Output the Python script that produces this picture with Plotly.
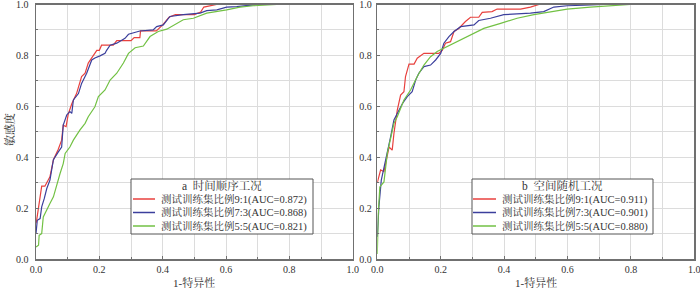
import plotly.graph_objects as go

# ---------------- data ----------------
ticks = [0.0, 0.2, 0.4, 0.6, 0.8, 1.0]
tick_labels = ["0.0", "0.2", "0.4", "0.6", "0.8", "1.0"]

x_title = "1-特异性"
y_title = "敏感度"

legend_title_a = "a  时间顺序工况"
legend_title_b = "b  空间随机工况"

names_a = ["测试训练集比例9:1(AUC=0.872)", "测试训练集比例7:3(AUC=0.868)", "测试训练集比例5:5(AUC=0.821)"]
names_b = ["测试训练集比例9:1(AUC=0.911)", "测试训练集比例7:3(AUC=0.901)", "测试训练集比例5:5(AUC=0.880)"]

# panel a  (时间顺序工况)
fpr_a_91 = [0, 0.002, 0.018, 0.028, 0.044, 0.055, 0.07, 0.081, 0.086, 0.095, 0.102, 0.113, 0.128,
            0.144, 0.155, 0.165, 0.176, 0.192, 0.2, 0.207, 0.244, 0.255, 0.281, 0.3, 0.31, 0.328,
            0.33, 0.38, 0.4, 0.42, 0.44, 0.5, 0.52, 0.53, 0.57, 1.0]
tpr_a_91 = [0.14, 0.152, 0.286, 0.286, 0.323, 0.39, 0.43, 0.467, 0.526, 0.52, 0.57, 0.61, 0.65,
            0.717, 0.73, 0.77, 0.79, 0.82, 0.82, 0.84, 0.84, 0.858, 0.858, 0.858, 0.87, 0.87,
            0.896, 0.896, 0.92, 0.95, 0.96, 0.96, 0.97, 0.99, 1.0, 1.0]

fpr_a_73 = [0, 0.004, 0.013, 0.018, 0.026, 0.034, 0.044, 0.055, 0.07, 0.081, 0.086, 0.097, 0.107,
            0.113, 0.118, 0.134, 0.144, 0.16, 0.176, 0.186, 0.202, 0.218, 0.223, 0.234, 0.255,
            0.281, 0.292, 0.328, 0.37, 0.381, 0.402, 0.423, 0.465, 0.518, 0.539, 0.571, 0.602,
            0.634, 0.697, 1.0]
tpr_a_73 = [0.1, 0.152, 0.159, 0.205, 0.237, 0.277, 0.31, 0.39, 0.42, 0.44, 0.526, 0.566, 0.579,
            0.572, 0.625, 0.65, 0.69, 0.73, 0.782, 0.79, 0.798, 0.808, 0.82, 0.84, 0.848,
            0.867, 0.883, 0.896, 0.9, 0.913, 0.92, 0.953, 0.96, 0.966, 0.976, 0.979, 0.99,
            0.992, 1.0, 1.0]

fpr_a_55 = [0, 0.008, 0.01, 0.018, 0.023, 0.034, 0.044, 0.055, 0.065, 0.076, 0.086, 0.092, 0.107,
            0.118, 0.139, 0.155, 0.165, 0.186, 0.197, 0.218, 0.234, 0.255, 0.276, 0.292, 0.313,
            0.339, 0.36, 0.386, 0.413, 0.439, 0.465, 0.497, 0.539, 0.602, 0.644, 0.686, 0.76, 1.0]
tpr_a_55 = [0.047, 0.054, 0.093, 0.1, 0.165, 0.19, 0.218, 0.244, 0.29, 0.336, 0.375, 0.415, 0.44,
            0.467, 0.507, 0.533, 0.559, 0.598, 0.638, 0.664, 0.703, 0.73, 0.77, 0.808, 0.83,
            0.837, 0.874, 0.894, 0.903, 0.92, 0.94, 0.946, 0.966, 0.979, 0.99, 0.995, 1.0, 1.0]

# panel b  (空间随机工况)
fpr_b_91 = [0, 0.0105, 0.021, 0.0315, 0.037, 0.047, 0.0525, 0.063, 0.0735, 0.084, 0.089, 0.1,
            0.116, 0.126, 0.147, 0.194, 0.205, 0.215, 0.231, 0.242, 0.257, 0.278, 0.294, 0.32,
            0.331, 0.362, 0.378, 0.452, 0.483, 0.51, 1.0]
tpr_b_91 = [0.3, 0.35, 0.343, 0.4, 0.44, 0.428, 0.493, 0.585, 0.644, 0.657, 0.717, 0.766,
            0.766, 0.789, 0.808, 0.808, 0.82, 0.848, 0.854, 0.894, 0.906, 0.933, 0.95, 0.95,
            0.969, 0.972, 0.982, 0.982, 0.99, 1.0, 1.0]

fpr_b_73 = [0, 0.005, 0.0126, 0.021, 0.0315, 0.037, 0.042, 0.0525, 0.063, 0.079, 0.0945, 0.11,
            0.121, 0.131, 0.147, 0.168, 0.184, 0.2, 0.21, 0.226, 0.242, 0.263, 0.305, 0.32,
            0.357, 0.399, 0.483, 0.525, 0.557, 0.599, 0.651, 0.714, 1.0]
tpr_b_73 = [0.087, 0.205, 0.31, 0.356, 0.415, 0.448, 0.48, 0.546, 0.572, 0.61, 0.638, 0.657,
            0.703, 0.73, 0.756, 0.762, 0.782, 0.808, 0.848, 0.874, 0.894, 0.913, 0.92, 0.937,
            0.946, 0.96, 0.966, 0.972, 0.99, 0.995, 0.997, 1.0, 1.0]

fpr_b_55 = [0, 0.003, 0.008, 0.021, 0.0315, 0.042, 0.0525, 0.063, 0.084, 0.105, 0.126, 0.147,
            0.168, 0.189, 0.221, 0.252, 0.294, 0.336, 0.389, 0.441, 0.494, 0.546, 0.599, 0.672,
            0.746, 0.798, 1.0]
tpr_b_55 = [0.02, 0.178, 0.283, 0.303, 0.415, 0.48, 0.533, 0.559, 0.625, 0.664, 0.717, 0.762,
            0.795, 0.815, 0.835, 0.854, 0.88, 0.906, 0.926, 0.946, 0.96, 0.972, 0.982, 0.99,
            0.997, 1.0, 1.0]

colors = ["#e8413e", "#3b3f9c", "#72c144"]

# ---------------- figure ----------------
FONT = "Liberation Serif, 'Times New Roman', 'Noto Serif CJK SC', 'Noto Sans CJK SC', serif"
TXT = "#333333"

W, H = 700, 291


def px(x):
    return x / W


def py(y):
    return 1 - y / H


fig = go.Figure()

series_a = [(fpr_a_91, tpr_a_91), (fpr_a_73, tpr_a_73), (fpr_a_55, tpr_a_55)]
series_b = [(fpr_b_91, tpr_b_91), (fpr_b_73, tpr_b_73), (fpr_b_55, tpr_b_55)]

for (fx, ty), nm, c in zip(series_a, names_a, colors):
    fig.add_trace(go.Scatter(x=fx, y=ty, mode="lines", name=nm, showlegend=False,
                             line=dict(color=c, width=1.2), xaxis="x", yaxis="y"))
for (fx, ty), nm, c in zip(series_b, names_b, colors):
    fig.add_trace(go.Scatter(x=fx, y=ty, mode="lines", name=nm, showlegend=False,
                             line=dict(color=c, width=1.2), xaxis="x2", yaxis="y2"))

y_dom = [py(259), py(4.5)]
xa_dom = [px(36), px(352.7)]
xb_dom = [px(377.3), px(694.3)]

axis_common = dict(
    range=[0, 1], tickvals=ticks, ticktext=tick_labels,
    showline=True, mirror=True, linecolor="#707070", linewidth=1.5,
    showgrid=True, gridcolor="#dcdcdc", gridwidth=1,
    ticks="inside", ticklen=3, tickcolor="#707070", tickwidth=1,
    minor=dict(dtick=0.1, showgrid=True, gridcolor="#dcdcdc", gridwidth=1,
               ticks="inside", ticklen=2, tickcolor="#707070"),
    zeroline=False, fixedrange=True, automargin=False,
    ticklabeloverflow="allow",
    tickfont=dict(family=FONT, size=10, color=TXT),
)

fig.update_layout(
    width=W, height=H,
    margin=dict(l=0, r=0, t=0, b=0),
    paper_bgcolor="white", plot_bgcolor="white",
    font=dict(family=FONT, size=10, color=TXT),
    xaxis=dict(domain=xa_dom, anchor="y", **axis_common),
    yaxis=dict(domain=y_dom, anchor="x", ticklabelstandoff=4, **axis_common),
    xaxis2=dict(domain=xb_dom, anchor="y2", **axis_common),
    yaxis2=dict(domain=y_dom, anchor="x2", ticklabelstandoff=2, **axis_common),
    showlegend=False,
)

# axis titles
for dom in (xa_dom, xb_dom):
    fig.add_annotation(text=x_title, x=(dom[0] + dom[1]) / 2, y=py(282), xref="paper", yref="paper",
                       xanchor="center", yanchor="middle", showarrow=False,
                       font=dict(family=FONT, size=11, color=TXT))
fig.add_annotation(text=y_title, x=px(9), y=py(130), xref="paper", yref="paper",
                   xanchor="center", yanchor="middle", showarrow=False, textangle=-90,
                   font=dict(family=FONT, size=11, color=TXT))

# legend boxes (drawn in paper coordinates)
legend_specs = [
    dict(x0=131, x1=313, sw0=133, sw1=155, tx=159, title=legend_title_a, names=names_a),
    dict(x0=472, x1=653, sw0=473, sw1=496, tx=500, title=legend_title_b, names=names_b),
]
row_y = [199, 212.5, 226]
for spec in legend_specs:
    fig.add_shape(type="rect", xref="paper", yref="paper",
                  x0=px(spec["x0"]), x1=px(spec["x1"]), y0=py(234), y1=py(179),
                  fillcolor="white", line=dict(color="#555555", width=1), layer="above")
    fig.add_annotation(text=spec["title"], x=px((spec["x0"] + spec["x1"]) / 2), y=py(185.5),
                       xref="paper", yref="paper", xanchor="center", yanchor="middle",
                       showarrow=False, font=dict(family=FONT, size=11.5, color=TXT))
    for nm, c, ry in zip(spec["names"], colors, row_y):
        fig.add_shape(type="line", xref="paper", yref="paper",
                      x0=px(spec["sw0"]), x1=px(spec["sw1"]), y0=py(ry), y1=py(ry),
                      line=dict(color=c, width=1.5), layer="above")
        fig.add_annotation(text=nm, x=px(spec["tx"]), y=py(ry), xref="paper", yref="paper",
                           xanchor="left", yanchor="middle", showarrow=False,
                           font=dict(family=FONT, size=10.5, color=TXT))

fig.write_html("out.html",
               config={"displayModeBar": False, "staticPlot": True},
               post_script="document.body.style.margin='0';document.body.style.padding='0';")
